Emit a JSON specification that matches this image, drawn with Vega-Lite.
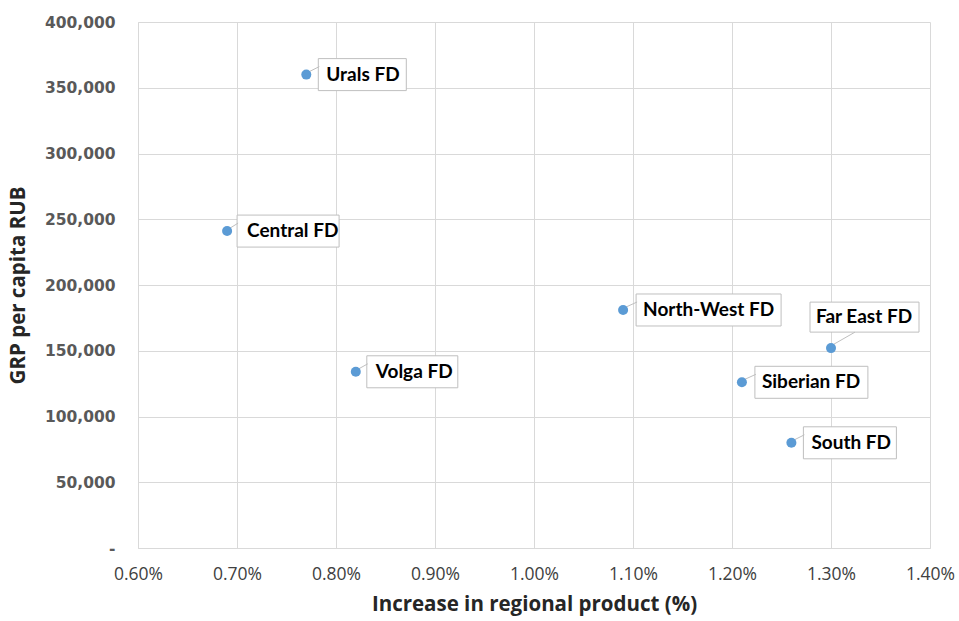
{
  "$schema": "https://vega.github.io/schema/vega-lite/v6.json",
  "width": 792,
  "height": 526,
  "autosize": "none",
  "padding": {"left": 138, "top": 22, "right": 29, "bottom": 73},
  "background": "white",
  "config": {
    "view": {"stroke": null},
    "axis": {
      "gridColor": "#d9d9d9",
      "gridWidth": 1,
      "domainColor": "#d9d9d9",
      "ticks": false,
      "titleFont": "Open Sans",
      "titleFontWeight": "bold",
      "titleFontSize": 20.5,
      "titleColor": "#262626"
    }
  },
  "data": {
    "values": [
      {"region": "Urals FD", "growth": 0.0077, "grp": 360000},
      {"region": "Central FD", "growth": 0.0069, "grp": 241000},
      {"region": "North-West FD", "growth": 0.0109, "grp": 181000},
      {"region": "Volga FD", "growth": 0.0082, "grp": 134000},
      {"region": "Far East FD", "growth": 0.0130, "grp": 152000},
      {"region": "Siberian FD", "growth": 0.0121, "grp": 126000},
      {"region": "South FD", "growth": 0.0126, "grp": 80000}
    ]
  },
  "encoding": {
    "x": {
      "field": "growth",
      "type": "quantitative",
      "scale": {"domain": [0.006, 0.014], "nice": false, "zero": false},
      "axis": {
        "values": [0.006, 0.007, 0.008, 0.009, 0.010, 0.011, 0.012, 0.013, 0.014],
        "format": ".2%",
        "labelFlush": false,
        "labelFont": "Open Sans",
        "labelFontSize": 17.5,
        "labelColor": "#404040",
        "labelPadding": 17,
        "title": "Increase in regional product (%)",
        "titlePadding": 12
      }
    },
    "y": {
      "field": "grp",
      "type": "quantitative",
      "scale": {"domain": [0, 400000], "nice": false},
      "axis": {
        "values": [0, 50000, 100000, 150000, 200000, 250000, 300000, 350000, 400000],
        "labelExpr": "datum.value === 0 ? '-\u2007' : format(datum.value, ',')",
        "labelFont": "DejaVu Sans",
        "labelFontWeight": "bold",
        "labelFontSize": 15.5,
        "labelColor": "#595959",
        "labelPadding": 23,
        "title": "GRP per capita RUB",
        "titlePadding": 16
      }
    }
  },
  "layer": [
    {
      "mark": {"type": "point", "filled": true, "fill": "white", "stroke": "#bfbfbf", "strokeWidth": 1, "size": 40000, "opacity": 1, "fillOpacity": 1},
      "encoding": {
        "shape": {
          "field": "region",
          "type": "nominal",
          "legend": null,
          "scale": {
            "domain": ["Urals FD", "Central FD", "North-West FD", "Volga FD", "Far East FD", "Siberian FD", "South FD"],
            "range": [
              "M0.12,-0.16H1.0V0.16H0.12ZM0.03,-0.03L0.13,-0.08",
              "M0.10,-0.16H1.12V0.16H0.10ZM0.03,-0.03L0.11,-0.08",
              "M0.13,-0.16H1.58V0.16H0.13ZM0.03,-0.03L0.14,-0.08",
              "M0.11,-0.16H1.02V0.16H0.11ZM0.03,-0.03L0.12,-0.08",
              "M-0.21,-0.16H0.88V-0.46H-0.21ZM0.03,-0.04L0.24,-0.16",
              "M0.13,-0.16H1.26V0.16H0.13ZM0.03,-0.03L0.14,-0.08",
              "M0.12,-0.16H1.05V0.16H0.12ZM0.03,-0.03L0.13,-0.08"
            ]
          }
        }
      }
    },
    {
      "mark": {"type": "circle", "size": 100, "color": "#5b9bd5", "opacity": 1}
    },
    {
      "transform": [{"filter": "datum.region !== 'Far East FD'"}],
      "mark": {"type": "text", "align": "left", "baseline": "middle", "dx": 20, "dy": 0, "font": "Lato", "fontWeight": "bold", "fontSize": 19, "color": "#000000"},
      "encoding": {"text": {"field": "region"}}
    },
    {
      "transform": [{"filter": "datum.region === 'Far East FD'"}],
      "mark": {"type": "text", "align": "center", "baseline": "middle", "dx": 33, "dy": -31, "font": "Lato", "fontWeight": "bold", "fontSize": 19, "color": "#000000"},
      "encoding": {"text": {"field": "region"}}
    }
  ]
}
